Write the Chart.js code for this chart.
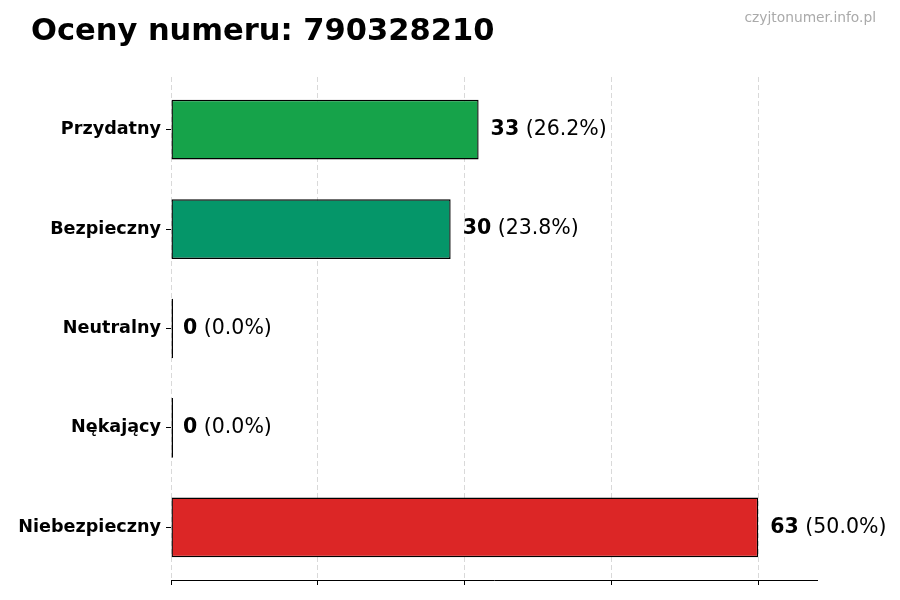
<!DOCTYPE html>
<html>
<head>
<meta charset="utf-8">
<script src="https://cdn.jsdelivr.net/npm/chart.js@4"></script>
<style>
  html, body { margin: 0; padding: 0; background: #fff; }
  #wrap { position: relative; width: 900px; height: 600px; }
  #title { position: absolute; left: 31px; top: 12px; font: bold 30.5px "DejaVu Sans", sans-serif; color: #000; white-space: nowrap; }
  #mark { position: absolute; right: 24px; top: 9px; font: 13.8px "DejaVu Sans", sans-serif; color: #aaaaaa; white-space: nowrap; }
  canvas { position: absolute; left: 0; top: 0; }
</style>
</head>
<body>
<div id="wrap">
  <canvas id="c" width="900" height="600"></canvas>
  <div id="title">Oceny numeru: 790328210</div>
  <div id="mark">czyjtonumer.info.pl</div>
</div>
<script>
const categories = ["Przydatny", "Bezpieczny", "Neutralny", "Nękający", "Niebezpieczny"];
const counts = [33, 30, 0, 0, 63];
const percents = ["26.2%", "23.8%", "0.0%", "0.0%", "50.0%"];
const barColors = ["#16a34a", "#059669", "#6b7280", "#f97316", "#dc2626"];
const xTicks = [0, 15.75, 31.5, 47.25, 63];

const valueLabels = {
  id: 'valueLabels',
  afterDatasetsDraw(chart) {
    const ctx = chart.ctx;
    const xs = chart.scales.x, ys = chart.scales.y;
    ctx.save();
    ctx.textBaseline = 'middle';
    ctx.fillStyle = '#000';
    counts.forEach((v, i) => {
      const x = xs.getPixelForValue(v) + 12;
      const y = ys.getPixelForValue(i);
      ctx.font = 'bold 20.5px "DejaVu Sans"';
      const a = String(v);
      ctx.fillText(a, x, y);
      const w = ctx.measureText(a).width;
      ctx.font = '20.5px "DejaVu Sans"';
      ctx.fillText(' (' + percents[i] + ')', x + w, y);
    });
    ctx.restore();
  }
};

new Chart(document.getElementById('c'), {
  type: 'bar',
  data: {
    datasets: [{
      data: counts.map((v, i) => ({ x: v, y: i })),
      backgroundColor: barColors,
      borderColor: '#000',
      borderWidth: 1.4,
      borderSkipped: false,
      barPercentage: 0.6,
      categoryPercentage: 1.0,
      minBarLength: 2
    }]
  },
  options: {
    indexAxis: 'y',
    responsive: false,
    animation: false,
    devicePixelRatio: 1,
    layout: { padding: { top: 77, right: 83, bottom: 0, left: 0 } },
    plugins: { legend: { display: false }, tooltip: { enabled: false }, title: { display: false } },
    scales: {
      x: {
        type: 'linear',
        min: 0, max: 69.3,
        afterBuildTicks(scale) { scale.ticks = xTicks.map(v => ({ value: v })); },
        ticks: { display: false },
        grid: { color: '#d9d9d9', lineWidth: 1, tickLength: 5, tickColor: '#000', tickBorderDash: [], drawTicks: true },
        border: { display: true, color: '#000', width: 1, dash: [5, 3] },
        afterFit(scale) { scale.height = 20; }
      },
      y: {
        type: 'linear',
        reverse: true,
        offset: false,
        min: -0.53, max: 4.53,
        afterBuildTicks(scale) { scale.ticks = categories.map((c, i) => ({ value: i })); },
        ticks: { color: '#000', font: { family: 'DejaVu Sans', size: 17.6, weight: 'bold' }, padding: 5,
                 callback: (v) => categories[v] },
        grid: { display: true, offset: false, drawOnChartArea: false, drawTicks: true, tickLength: 5, tickColor: '#000', color: '#000' },
        border: { display: false },
        afterFit(scale) { scale.width = 171; }
      }
    }
  },
  plugins: [valueLabels]
});
</script>
</body>
</html>
